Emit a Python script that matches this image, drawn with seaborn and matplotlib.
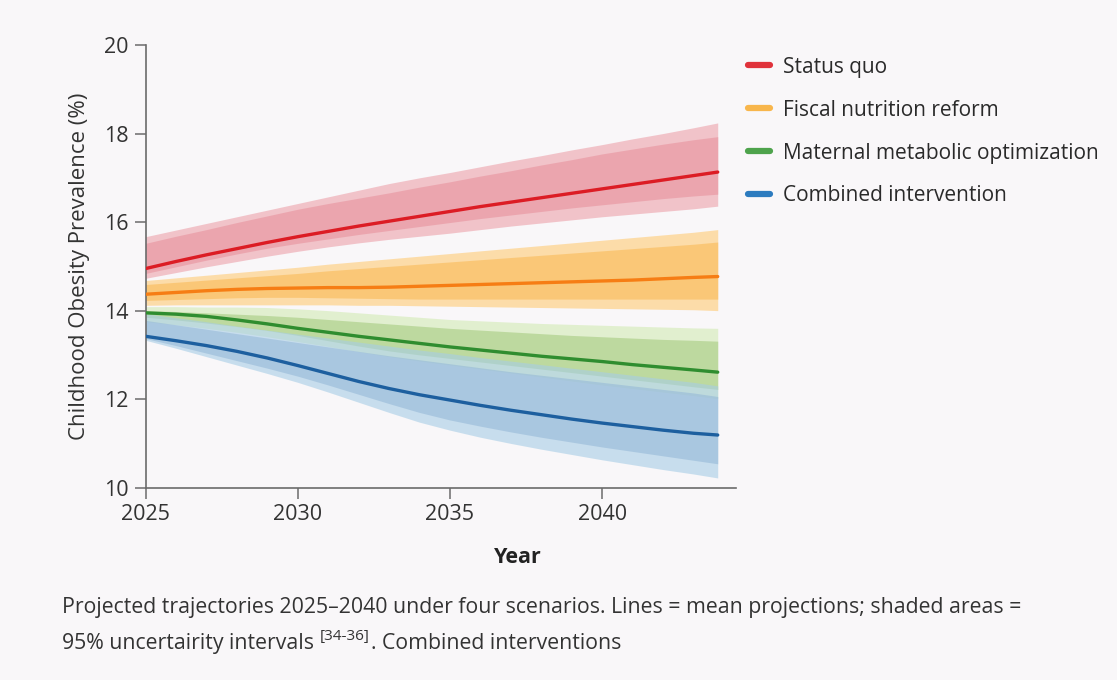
import matplotlib
matplotlib.use("Agg")
import matplotlib.pyplot as plt
from matplotlib.lines import Line2D
import pandas as pd
import seaborn as sns

# ---- data -----------------------------------------------------------------
years = [2025, 2026, 2027, 2028, 2029, 2030, 2031, 2032, 2033, 2034,
         2035, 2036, 2037, 2038, 2039, 2040, 2041, 2042, 2043, 2043.8]

scenarios = ["Status quo", "Fiscal nutrition reform",
             "Maternal metabolic optimization", "Combined intervention"]

# Status quo
sq_mean = [14.95, 15.11, 15.26, 15.40, 15.54, 15.67, 15.79, 15.91, 16.02, 16.13,
           16.24, 16.35, 16.45, 16.55, 16.65, 16.75, 16.85, 16.95, 17.05, 17.13]
sq_outer_hi = [15.67, 15.82, 15.97, 16.12, 16.27, 16.42, 16.57, 16.72, 16.87, 17.00,
               17.12, 17.25, 17.38, 17.50, 17.63, 17.75, 17.88, 18.00, 18.13, 18.24]
sq_inner_hi = [15.52, 15.68, 15.83, 15.99, 16.14, 16.29, 16.42, 16.54, 16.66, 16.79,
               16.91, 17.04, 17.16, 17.29, 17.41, 17.54, 17.65, 17.76, 17.86, 17.93]
sq_inner_lo = [14.84, 14.99, 15.14, 15.28, 15.41, 15.52, 15.62, 15.72, 15.81, 15.90,
               15.99, 16.08, 16.16, 16.24, 16.32, 16.39, 16.46, 16.53, 16.59, 16.63]
sq_outer_lo = [14.73, 14.86, 14.99, 15.11, 15.23, 15.34, 15.44, 15.53, 15.61, 15.68,
               15.75, 15.83, 15.91, 15.98, 16.05, 16.12, 16.18, 16.24, 16.30, 16.36]

# Fiscal nutrition reform
fn_mean = [14.37, 14.41, 14.45, 14.48, 14.50, 14.51, 14.52, 14.52, 14.53, 14.55,
           14.57, 14.59, 14.61, 14.63, 14.65, 14.67, 14.69, 14.72, 14.75, 14.77]
fn_outer_hi = [14.68, 14.74, 14.80, 14.86, 14.92, 14.98, 15.05, 15.11, 15.17, 15.23,
               15.29, 15.35, 15.41, 15.47, 15.53, 15.59, 15.65, 15.71, 15.77, 15.83]
fn_inner_hi = [14.59, 14.64, 14.69, 14.74, 14.79, 14.84, 14.90, 14.95, 15.00, 15.05,
               15.10, 15.15, 15.20, 15.25, 15.30, 15.35, 15.40, 15.45, 15.50, 15.55]
fn_inner_lo = [14.23, 14.25, 14.27, 14.29, 14.30, 14.30, 14.29, 14.28, 14.27, 14.26,
               14.26, 14.26, 14.26, 14.26, 14.26, 14.26, 14.26, 14.26, 14.26, 14.26]
fn_outer_lo = [14.12, 14.13, 14.13, 14.13, 14.13, 14.13, 14.13, 14.12, 14.12, 14.11,
               14.10, 14.09, 14.08, 14.07, 14.06, 14.05, 14.04, 14.03, 14.02, 14.00]

# Maternal metabolic optimization
mm_mean = [13.95, 13.92, 13.87, 13.79, 13.70, 13.60, 13.51, 13.42, 13.34, 13.26,
           13.18, 13.11, 13.04, 12.97, 12.91, 12.85, 12.78, 12.72, 12.66, 12.61]
mm_outer_hi = [14.09, 14.09, 14.08, 14.08, 14.07, 14.04, 14.00, 13.95, 13.90, 13.85,
               13.80, 13.77, 13.74, 13.71, 13.69, 13.67, 13.65, 13.63, 13.61, 13.60]
mm_inner_hi = [14.00, 13.98, 13.95, 13.92, 13.89, 13.85, 13.80, 13.75, 13.70, 13.65,
               13.60, 13.56, 13.52, 13.48, 13.44, 13.41, 13.38, 13.35, 13.33, 13.31]
mm_inner_lo = [13.85, 13.79, 13.72, 13.64, 13.55, 13.44, 13.32, 13.20, 13.09, 13.00,
               12.92, 12.84, 12.76, 12.68, 12.60, 12.52, 12.44, 12.36, 12.28, 12.22]
mm_outer_lo = [13.75, 13.68, 13.60, 13.51, 13.41, 13.30, 13.19, 13.07, 12.96, 12.86,
               12.77, 12.68, 12.59, 12.50, 12.41, 12.32, 12.24, 12.16, 12.08, 12.01]

# Combined intervention
ci_mean = [13.42, 13.32, 13.21, 13.08, 12.93, 12.76, 12.58, 12.40, 12.24, 12.10,
           11.98, 11.86, 11.75, 11.65, 11.55, 11.46, 11.38, 11.30, 11.23, 11.19]
ci_outer_hi = [13.93, 13.84, 13.75, 13.65, 13.56, 13.47, 13.38, 13.29, 13.20, 13.11,
               13.03, 12.94, 12.86, 12.78, 12.70, 12.62, 12.54, 12.46, 12.38, 12.30]
ci_inner_hi = [13.78, 13.68, 13.58, 13.48, 13.38, 13.28, 13.18, 13.08, 12.98, 12.89,
               12.80, 12.71, 12.62, 12.54, 12.46, 12.38, 12.30, 12.22, 12.14, 12.06]
ci_inner_lo = [13.37, 13.21, 13.04, 12.87, 12.70, 12.52, 12.32, 12.11, 11.90, 11.70,
               11.53, 11.39, 11.26, 11.14, 11.03, 10.92, 10.82, 10.72, 10.62, 10.54]
ci_outer_lo = [13.33, 13.15, 12.96, 12.77, 12.58, 12.38, 12.16, 11.93, 11.70, 11.48,
               11.30, 11.14, 11.00, 10.87, 10.75, 10.63, 10.52, 10.41, 10.31, 10.22]

x_ticks = [2025, 2030, 2035, 2040]
y_ticks = [10, 12, 14, 16, 18, 20]

caption_1 = ("Projected trajectories 2025\u20132040 under four scenarios. "
             "Lines = mean projections; shaded areas =")
caption_2a = "95% uncertairity intervals"
caption_2b = "[34-36]"
caption_2c = ". Combined interventions"

# ---- styling --------------------------------------------------------------
bg = "#f9f7f9"
line_colors = ["#dc1c24", "#f67d14", "#2f8d2f", "#1d5f9f"]
legend_colors = ["#e0323b", "#f8b64c", "#4ea34c", "#2c7bbf"]
outer_colors = ["#eda1aa", "#ffcb75", "#d2ebb4", "#a7cde6"]
inner_colors = ["#e8929d", "#faba57", "#a6cb80", "#96b9d8"]

sns.set_theme(style="ticks")
plt.rcParams["font.family"] = ["Open Sans", "DejaVu Sans"]

fig = plt.figure(figsize=(11.17, 6.8), dpi=100, facecolor=bg)
ax = fig.add_axes([0.1303, 0.2828, 0.5286, 0.6510], facecolor=bg)

bands = [
    (sq_outer_lo, sq_outer_hi, sq_inner_lo, sq_inner_hi),
    (fn_outer_lo, fn_outer_hi, fn_inner_lo, fn_inner_hi),
    (mm_outer_lo, mm_outer_hi, mm_inner_lo, mm_inner_hi),
    (ci_outer_lo, ci_outer_hi, ci_inner_lo, ci_inner_hi),
]
for i, (olo, ohi, ilo, ihi) in enumerate(bands):
    ax.fill_between(years, olo, ohi, color=outer_colors[i], alpha=0.6,
                    linewidth=0, zorder=1 + i * 0.1)
    ax.fill_between(years, ilo, ihi, color=inner_colors[i], alpha=0.6,
                    linewidth=0, zorder=1.05 + i * 0.1)

means = [sq_mean, fn_mean, mm_mean, ci_mean]
long_df = pd.DataFrame({
    "Year": years * len(scenarios),
    "Prevalence": sum(means, []),
    "Scenario": [s for s in scenarios for _ in years],
})
sns.lineplot(data=long_df, x="Year", y="Prevalence", hue="Scenario",
             hue_order=scenarios, palette=line_colors, linewidth=2.4,
             legend=False, ax=ax, zorder=3)

ax.set_xlim(2025, 2044.4)
ax.set_ylim(10, 20)
ax.set_xticks(x_ticks)
ax.set_xticklabels([str(t) for t in x_ticks])
ax.set_yticks(y_ticks)
ax.set_yticklabels([str(t) for t in y_ticks])

for side in ("top", "right"):
    ax.spines[side].set_visible(False)
for side in ("left", "bottom"):
    ax.spines[side].set_color("#6b6b6b")
    ax.spines[side].set_linewidth(1.2)
ax.tick_params(axis="both", length=8, width=1.1, color="#6b6b6b",
               labelsize=15.5, labelcolor="#333333", pad=4)

ax.set_ylabel("Childhood Obesity Prevalence (%)", fontsize=16,
              color="#333333", labelpad=10)
ax.set_xlabel("Year", fontsize=15.5, fontweight="bold", color="#222222",
              labelpad=10)
ax.xaxis.set_label_coords(0.631, -0.135)

handles = [Line2D([0], [0], color=c, linewidth=4.5) for c in legend_colors]
fig.legend(handles, scenarios, loc="upper left",
           bbox_to_anchor=(0.6697, 0.9165), frameon=False, fontsize=15,
           handlelength=1.05, handletextpad=0.62, labelspacing=1.05,
           borderaxespad=0, borderpad=0, labelcolor="#2a2a2a")

cap_kw = dict(fontsize=15.3, color="#333333", va="baseline")
fig.text(62 / 1117, 1 - 613 / 680, caption_1, **cap_kw)
t_a = fig.text(62 / 1117, 1 - 649 / 680, caption_2a, **cap_kw)
fig.canvas.draw()
renderer = fig.canvas.get_renderer()
ext = t_a.get_window_extent(renderer)
x_sup = ext.x1 + 6
t_b = fig.text(x_sup / 1117, (680 - 649 + 9) / 680, caption_2b,
               fontsize=11, color="#333333", va="baseline")
fig.canvas.draw()
ext_b = t_b.get_window_extent(renderer)
fig.text((ext_b.x1 + 1) / 1117, 1 - 649 / 680, caption_2c, **cap_kw)

fig.savefig("out.png", dpi=100, facecolor=bg)
